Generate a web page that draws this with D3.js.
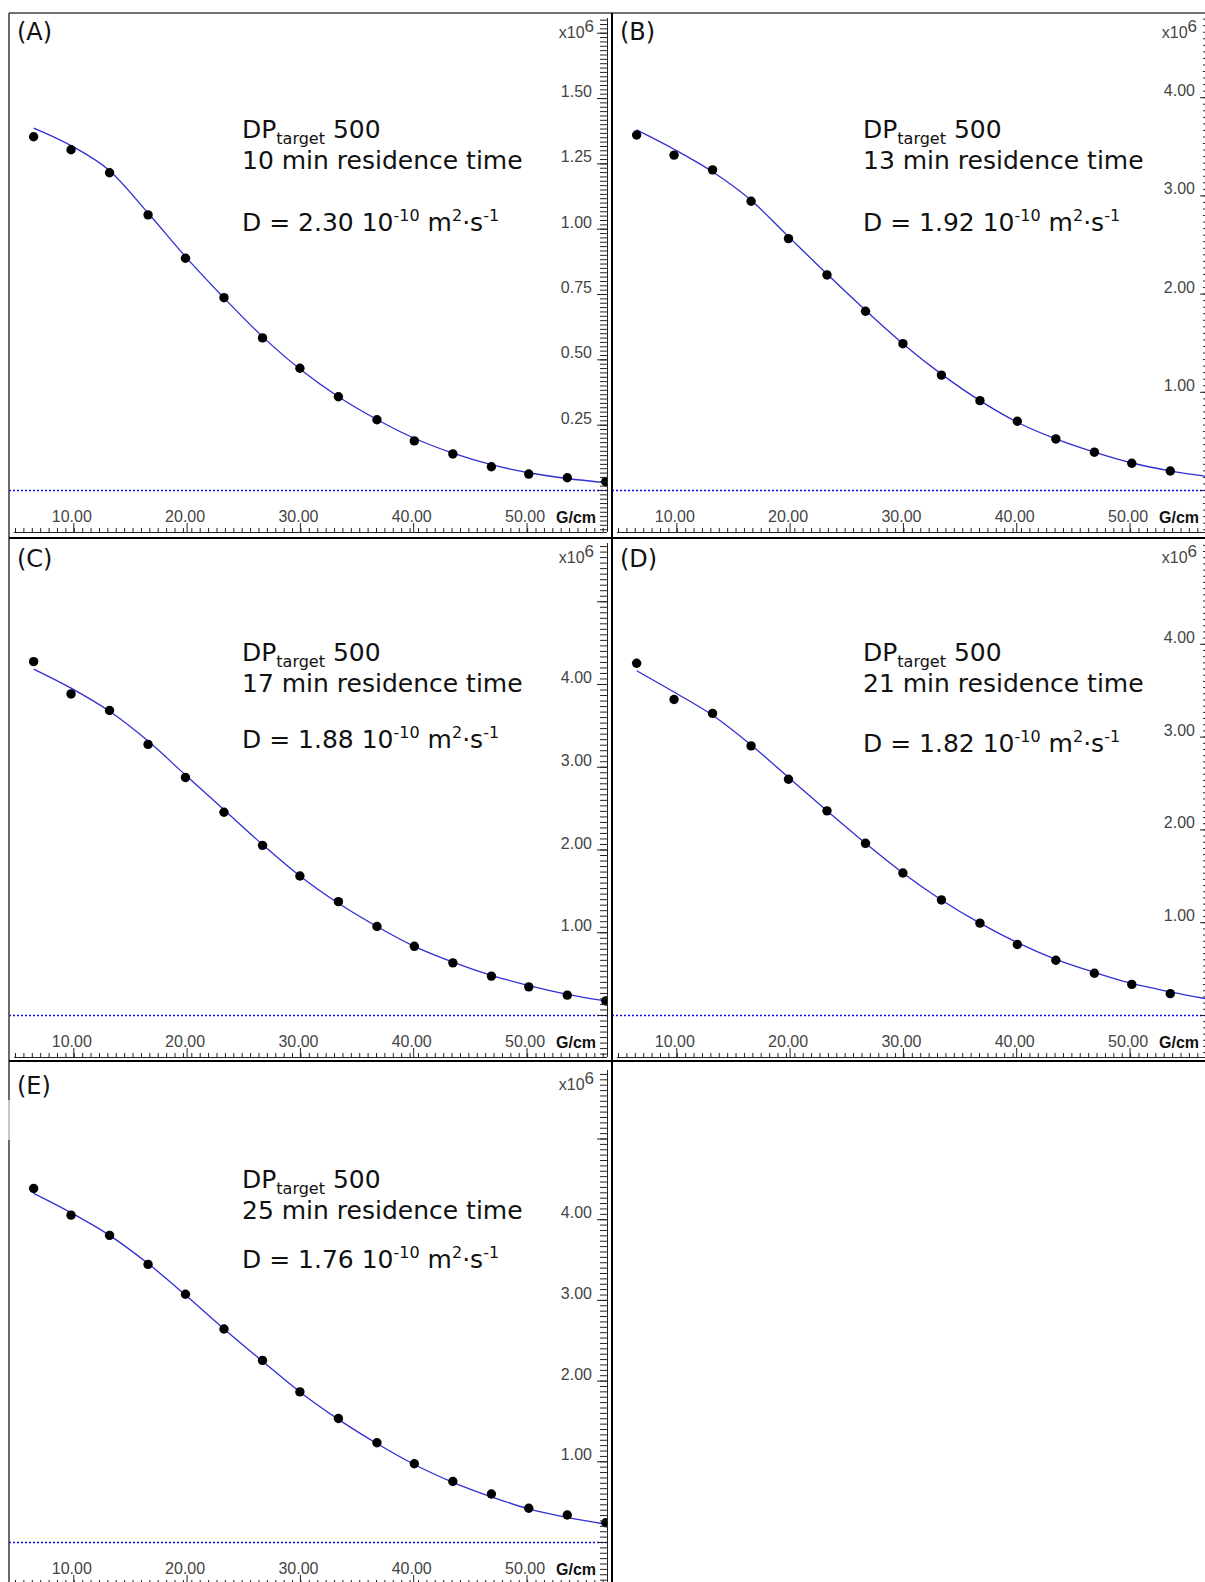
<!DOCTYPE html>
<html>
<head>
<meta charset="utf-8">
<script src="https://cdn.jsdelivr.net/npm/d3@7/dist/d3.min.js"></script>
<style>
  body { margin: 0; background: #fff; }
  svg { display: block; }
  text { white-space: pre; }
</style>
</head>
<body>
<svg id="chart" width="1205" height="1582"></svg>
<script>
// gradient strength of each acquisition (G/cm), shared by all experiments
const gradients = [6.5, 9.8, 13.2, 16.6, 19.9, 23.3, 26.7, 30.0, 33.4, 36.8, 40.1, 43.5, 46.9, 50.2, 53.6, 57.0];

// measured intensities and fitted curve, in units of 10^6
const signalA = [1.352, 1.302, 1.214, 1.053, 0.887, 0.736, 0.582, 0.466, 0.357, 0.269, 0.188, 0.138, 0.089, 0.061, 0.047, 0.032];
const fitA    = [1.385, 1.318, 1.222, 1.060, 0.893, 0.735, 0.587, 0.463, 0.357, 0.270, 0.198, 0.141, 0.097, 0.066, 0.044, 0.028];

const signalB = [3.615, 3.41, 3.26, 2.94, 2.56, 2.19, 1.82, 1.49, 1.17, 0.91, 0.70, 0.52, 0.385, 0.272, 0.194];
const fitB    = [3.667, 3.47, 3.24, 2.95, 2.58, 2.20, 1.83, 1.49, 1.18, 0.91, 0.69, 0.52, 0.385, 0.275, 0.195, 0.135];

const signalC = [4.27, 3.88, 3.68, 3.27, 2.87, 2.45, 2.05, 1.68, 1.37, 1.07, 0.83, 0.63, 0.47, 0.34, 0.24, 0.17];
const fitC    = [4.18, 3.95, 3.67, 3.31, 2.90, 2.48, 2.06, 1.68, 1.35, 1.07, 0.83, 0.64, 0.48, 0.355, 0.25, 0.17];

const signalD = [3.79, 3.40, 3.25, 2.90, 2.54, 2.20, 1.85, 1.53, 1.24, 0.99, 0.76, 0.59, 0.45, 0.33, 0.23];
const fitD    = [3.71, 3.48, 3.23, 2.91, 2.56, 2.20, 1.85, 1.53, 1.24, 0.99, 0.78, 0.60, 0.46, 0.34, 0.25, 0.17];

const signalE = [4.38, 4.05, 3.80, 3.44, 3.07, 2.64, 2.25, 1.86, 1.53, 1.23, 0.97, 0.75, 0.595, 0.418, 0.335, 0.239];
const fitE    = [4.32, 4.08, 3.80, 3.45, 3.06, 2.64, 2.24, 1.86, 1.52, 1.22, 0.96, 0.74, 0.56, 0.41, 0.305, 0.22];

const panelLabels = ['(A)', '(B)', '(C)', '(D)', '(E)'];
const residenceTimes = [10, 13, 17, 21, 25];
const diffusionCoefs = ['2.30', '1.92', '1.88', '1.82', '1.76'];
const dpTarget = 500;

const xTickValues = [10, 20, 30, 40, 50];
const yTicksA = [0.25, 0.50, 0.75, 1.00, 1.25, 1.50];
const yTicksBig = [1, 2, 3, 4];

// where each screenshot sits on the page (pixels)
const layout = [
  { x: 9,   y: 13,   unit: 261.3, step: 0.25, extra: [1.75], textX: 233, textY: [125, 156, 218], labelY: 27 },
  { x: 612, y: 13,   unit: 98.2,  step: 1,    extra: [],     textX: 251, textY: [125, 156, 218], labelY: 27 },
  { x: 9,   y: 538,  unit: 82.75, step: 1,    extra: [5],    textX: 233, textY: [123, 154, 210], labelY: 29 },
  { x: 612, y: 538,  unit: 92.8,  step: 1,    extra: [],     textX: 251, textY: [123, 154, 214], labelY: 29 },
  { x: 9,   y: 1065, unit: 80.7,  step: 1,    extra: [5],    textX: 233, textY: [123, 154, 203], labelY: 29 }
];

const series = [
  { signal: signalA, fit: fitA, ticks: yTicksA },
  { signal: signalB, fit: fitB, ticks: yTicksBig },
  { signal: signalC, fit: fitC, ticks: yTicksBig },
  { signal: signalD, fit: fitD, ticks: yTicksBig },
  { signal: signalE, fit: fitE, ticks: yTicksBig }
];

const AXIS_X = 598;      // y axis line, relative to panel
const AXIS_TOP = 5;
const BASE_Y = 519;      // x axis baseline
const ZERO_Y = 477;
const tickFont = '"Liberation Sans", Arial, sans-serif';
const textFont = '"DejaVu Sans", Verdana, sans-serif';

const svg = d3.select('#chart');

function drawPanel(s, lay, i) {

  const g = svg.append('g').attr('transform', `translate(${lay.x},${lay.y})`);

  const x = d3.scaleLinear().domain([10, 50]).range([64.3, 64.3 + 40 * 11.33]);
  const y = d3.scaleLinear().domain([0, 1]).range([ZERO_Y, ZERO_Y - lay.unit]);

  const clipId = 'clip' + i;
  g.append('clipPath').attr('id', clipId)
    .append('rect').attr('x', 0).attr('y', 0).attr('width', AXIS_X).attr('height', BASE_Y);

  const plot = g.append('g').attr('clip-path', `url(#${clipId})`);

  // zero baseline
  plot.append('line')
    .attr('x1', 0).attr('x2', AXIS_X)
    .attr('y1', y(0) + 0.5).attr('y2', y(0) + 0.5)
    .attr('stroke', '#0a0ae6').attr('stroke-width', 1.3)
    .attr('stroke-dasharray', '2,2');

  // fitted decay
  const line = d3.line()
    .x(d => x(d[0]))
    .y(d => y(d[1]))
    .curve(d3.curveMonotoneX);

  plot.append('path')
    .datum(d3.zip(gradients, s.fit))
    .attr('d', line)
    .attr('fill', 'none')
    .attr('stroke', '#2f2fd4')
    .attr('stroke-width', 1.3);

  plot.selectAll('circle')
    .data(s.signal)
    .join('circle')
    .attr('cx', (d, k) => x(gradients[k]))
    .attr('cy', d => y(d))
    .attr('r', 4.7)
    .attr('fill', '#000');

  // y axis (right side, ticks pointing left)
  const vBottom = y.invert(BASE_Y), vTop = y.invert(AXIS_TOP);
  const minorStep = lay.step / 15;
  const minors = d3.range(Math.ceil(vBottom / minorStep), Math.floor(vTop / minorStep) + 1).map(k => k * minorStep);

  g.append('g')
    .attr('transform', `translate(${AXIS_X},0)`)
    .call(d3.axisLeft(y).tickValues(minors).tickSize(7).tickSizeOuter(0).tickFormat(''))
    .call(a => a.select('.domain').remove())
    .call(a => a.selectAll('line').attr('stroke', '#222'));

  const majors = [0].concat(s.ticks, lay.extra);
  const fmt = d3.format('.2f');
  g.append('g')
    .attr('transform', `translate(${AXIS_X},0)`)
    .call(d3.axisLeft(y).tickValues(majors).tickSize(10).tickSizeOuter(0)
      .tickFormat(v => s.ticks.includes(v) ? fmt(v) : ''))
    .call(a => a.select('.domain').remove())
    .call(a => a.selectAll('line').attr('stroke', '#222'))
    .call(a => a.selectAll('text')
      .attr('x', -15).attr('dy', null).attr('y', -1.5)
      .attr('font-family', tickFont).attr('font-size', 16).attr('fill', '#444'));

  g.append('line')
    .attr('x1', AXIS_X + 0.5).attr('x2', AXIS_X + 0.5)
    .attr('y1', AXIS_TOP).attr('y2', BASE_Y)
    .attr('stroke', '#222');

  const exp = g.append('text')
    .attr('x', 585).attr('y', 25)
    .attr('text-anchor', 'end')
    .attr('font-family', tickFont).attr('font-size', 16).attr('fill', '#444');
  exp.append('tspan').text('x10');
  exp.append('tspan').attr('dy', -6).attr('font-size', 17).text('6');

  // x axis along the bottom, ticks pointing up
  const xMin = x.invert(5), xMax = x.invert(AXIS_X);
  const xMinors = d3.range(4.855, xMax, 0.741);
  g.append('g')
    .attr('transform', `translate(0,${BASE_Y})`)
    .call(d3.axisTop(x).tickValues(xMinors.filter(v => v >= xMin)).tickSize(4).tickSizeOuter(0).tickFormat(''))
    .call(a => a.select('.domain').remove())
    .call(a => a.selectAll('line').attr('stroke', '#222'));

  g.append('g')
    .attr('transform', `translate(0,${BASE_Y})`)
    .call(d3.axisTop(x).tickValues(xTickValues).tickSize(9).tickSizeOuter(0).tickPadding(1)
      .tickFormat(d3.format('.2f')))
    .call(a => a.select('.domain').remove())
    .call(a => a.selectAll('line').attr('stroke', '#222'))
    .call(a => a.selectAll('text')
      .attr('dx', -2)
      .attr('font-family', tickFont).attr('font-size', 16).attr('fill', '#444'));

  g.append('line')
    .attr('x1', 5).attr('x2', AXIS_X)
    .attr('y1', BASE_Y + 0.5).attr('y2', BASE_Y + 0.5)
    .attr('stroke', '#222');

  g.append('text')
    .attr('x', 587).attr('y', 510)
    .attr('text-anchor', 'end')
    .attr('font-family', tickFont).attr('font-size', 16).attr('font-weight', 'bold')
    .attr('fill', '#111')
    .text('G/cm');

  // panel letter
  g.append('text')
    .attr('x', 8).attr('y', lay.labelY)
    .attr('font-family', textFont).attr('font-size', 24)
    .attr('fill', '#111')
    .text(panelLabels[i]);

  // annotation
  const note = g.append('g')
    .attr('font-family', textFont).attr('font-size', 25).attr('fill', '#111');

  const l1 = note.append('text').attr('x', lay.textX).attr('y', lay.textY[0]);
  l1.append('tspan').text('DP');
  l1.append('tspan').attr('font-size', 16).attr('dy', 6).text('target');
  l1.append('tspan').attr('dy', -6).text(' ' + dpTarget);

  note.append('text').attr('x', lay.textX).attr('y', lay.textY[1])
    .text(`${residenceTimes[i]} min residence time`);

  const l3 = note.append('text').attr('x', lay.textX).attr('y', lay.textY[2]);
  l3.append('tspan').text(`D = ${diffusionCoefs[i]} 10`);
  l3.append('tspan').attr('font-size', 16).attr('dy', -10).text('-10');
  l3.append('tspan').attr('dy', 10).text(' m');
  l3.append('tspan').attr('font-size', 16).attr('dy', -10).text('2');
  l3.append('tspan').attr('dy', 10).text('\u00b7s');
  l3.append('tspan').attr('font-size', 16).attr('dy', -10).text('-1');
}

series.forEach((s, i) => drawPanel(s, layout[i], i));

// frame and separators between the screenshots
const frame = svg.append('g');
frame.append('line').attr('x1', 9).attr('x2', 1205).attr('y1', 13).attr('y2', 13)
  .attr('stroke', '#444').attr('stroke-width', 1.6);
frame.append('line').attr('x1', 9).attr('x2', 9).attr('y1', 13).attr('y2', 1100)
  .attr('stroke', '#444').attr('stroke-width', 1.6);
frame.append('line').attr('x1', 9).attr('x2', 9).attr('y1', 1100).attr('y2', 1140)
  .attr('stroke', '#bbb').attr('stroke-width', 1.6);
frame.append('line').attr('x1', 9).attr('x2', 9).attr('y1', 1140).attr('y2', 1582)
  .attr('stroke', '#444').attr('stroke-width', 1.6);
frame.append('line').attr('x1', 612).attr('x2', 612).attr('y1', 13).attr('y2', 1582)
  .attr('stroke', '#000').attr('stroke-width', 2);
frame.append('line').attr('x1', 9).attr('x2', 1205).attr('y1', 538).attr('y2', 538)
  .attr('stroke', '#000').attr('stroke-width', 2);
frame.append('line').attr('x1', 9).attr('x2', 1205).attr('y1', 1061).attr('y2', 1061)
  .attr('stroke', '#000').attr('stroke-width', 2);
</script>
</body>
</html>
